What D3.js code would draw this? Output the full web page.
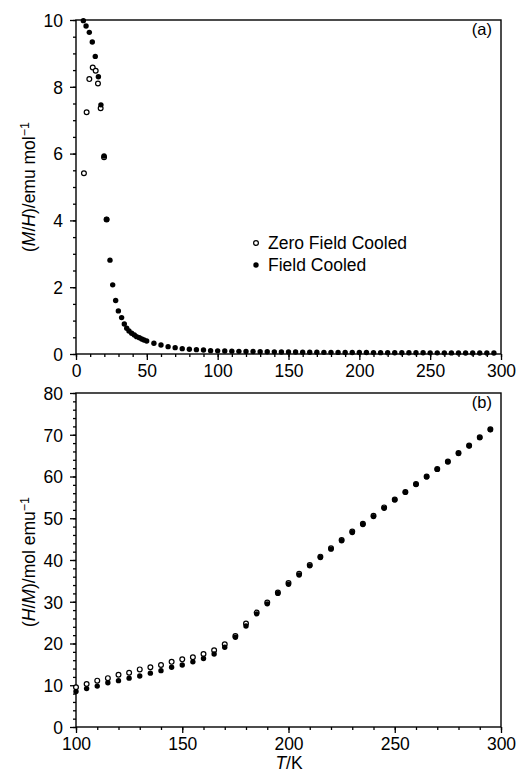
<!DOCTYPE html>
<html>
<head>
<meta charset="utf-8">
<script src="https://cdn.jsdelivr.net/npm/d3@7"></script>
<style>
  body { margin: 0; background: #fff; }
  svg { font-family: "Liberation Sans", Arial, Helvetica, sans-serif; }
</style>
</head>
<body>
<svg id="chart" width="518" height="775"></svg>
<script>
// panel (a): (M/H) vs T
var tempA_fc = [5.2, 7.1, 9.4, 11.5, 13.6, 15.8, 17.6, 19.8, 21.6, 24, 25.9, 28, 29.9, 32.2, 34.1, 35.8, 37.4, 39.3, 41.2, 42.8, 44.7, 46.4, 48, 49.9,
  55, 60, 65, 70, 75, 80, 85, 90, 95, 100, 105, 110, 115, 120, 125, 130, 135, 140, 145, 150, 155, 160, 165, 170, 175, 180,
  185, 190, 195, 200, 205, 210, 215, 220, 225, 230, 235, 240, 245, 250, 255, 260, 265, 270, 275, 280, 285, 290, 295];
var chiA_fc = [9.98, 9.82, 9.63, 9.34, 8.91, 8.30, 7.46, 5.93, 4.03, 2.81, 2.07, 1.6, 1.29, 1.09, 0.9, 0.77, 0.69, 0.62, 0.57, 0.52, 0.49, 0.45, 0.42, 0.39,
  0.32, 0.27, 0.22, 0.19, 0.16, 0.14, 0.13, 0.12, 0.1, 0.095, 0.09, 0.085, 0.08, 0.077, 0.073, 0.07, 0.067, 0.064, 0.062, 0.06, 0.058, 0.056, 0.054, 0.052, 0.05, 0.049,
  0.048, 0.046, 0.045, 0.044, 0.043, 0.042, 0.041, 0.04, 0.039, 0.038, 0.037, 0.037, 0.036, 0.035, 0.035, 0.034, 0.033, 0.033, 0.032, 0.032, 0.031, 0.031, 0.03];
var tempA_zfc = [5.6, 7.5, 9.4, 11.8, 13.9, 15.5, 17.4, 19.8, 21.6];
var chiA_zfc = [5.41, 7.24, 8.23, 8.58, 8.48, 8.1, 7.36, 5.89, 4.03];

// panel (b): (H/M) vs T
var tempB = [100, 105, 110, 115, 120, 125, 130, 135, 140, 145, 150, 155, 160, 165, 170, 175, 180, 185, 190, 195,
  200, 205, 210, 215, 220, 225, 230, 235, 240, 245, 250, 255, 260, 265, 270, 275, 280, 285, 290, 295];
var invB_zfc = [9.5, 10.3, 11.1, 11.7, 12.5, 13.0, 13.8, 14.3, 14.85, 15.6, 16.2, 16.7, 17.5, 18.4, 19.8, 21.8, 24.8, 27.4, 29.8, 32.2,
  34.5, 36.7, 38.8, 40.8, 42.8, 44.8, 46.8, 48.7, 50.6, 52.6, 54.5, 56.3, 58.2, 60.0, 61.8, 63.6, 65.6, 67.4, 69.4, 71.3];
var invB_fc = [8.5, 9.2, 9.8, 10.6, 11.1, 11.7, 12.2, 12.9, 13.5, 14.3, 14.85, 15.6, 16.4, 17.5, 19.1, 21.5, 24.2, 27.1, 29.5, 32.0,
  34.2, 36.4, 38.6, 40.6, 42.6, 44.6, 46.6, 48.5, 50.4, 52.4, 54.4, 56.2, 58.1, 59.9, 61.7, 63.5, 65.5, 67.3, 69.3, 71.2];

var legendLabels = ["Zero Field Cooled", "Field Cooled"];

var svg = d3.select("#chart");
var left = 76, right = 501;

function drawPanel(opts) {
  var x = d3.scaleLinear().domain(opts.xDomain).range([left, right]);
  var y = d3.scaleLinear().domain(opts.yDomain).range([opts.bottom, opts.top]);
  var g = svg.append("g");

  // minor ticks first, then major with labels
  g.append("g")
    .attr("transform", "translate(0," + opts.bottom + ")")
    .call(d3.axisBottom(x).tickValues(d3.range(opts.xDomain[0], opts.xDomain[1] + 0.01, opts.xMinor)).tickSize(3).tickFormat(""))
    .call(a => a.select(".domain").remove());
  g.append("g")
    .attr("transform", "translate(0," + opts.bottom + ")")
    .call(d3.axisBottom(x).tickValues(d3.range(opts.xDomain[0], opts.xDomain[1] + 0.01, opts.xMajor)).tickSize(6).tickPadding(5))
    .call(a => a.select(".domain").remove())
    .call(a => a.selectAll("text").attr("font-size", 17.5).attr("fill", "#000").attr("font-family", null));
  g.append("g")
    .attr("transform", "translate(" + left + ",0)")
    .call(d3.axisLeft(y).tickValues(d3.range(opts.yDomain[0], opts.yDomain[1] + 0.01, opts.yMinor)).tickSize(3).tickFormat(""))
    .call(a => a.select(".domain").remove());
  g.append("g")
    .attr("transform", "translate(" + left + ",0)")
    .call(d3.axisLeft(y).tickValues(d3.range(opts.yDomain[0], opts.yDomain[1] + 0.01, opts.yMajor)).tickSize(6).tickPadding(7))
    .call(a => a.select(".domain").remove())
    .call(a => a.selectAll("text").attr("font-size", 17.5).attr("fill", "#000").attr("font-family", null).attr("dy", "0.36em"));
  g.selectAll(".tick line").attr("stroke", "#000").attr("stroke-width", 1.3);

  // frame
  g.append("rect")
    .attr("x", left).attr("y", opts.top)
    .attr("width", right - left).attr("height", opts.bottom - opts.top)
    .attr("fill", "none").attr("stroke", "#000").attr("stroke-width", 1.4);

  // open symbols (ZFC) then filled (FC)
  g.selectAll("circle.zfc")
    .data(d3.zip(opts.zfcX, opts.zfcY))
    .join("circle")
      .attr("class", "zfc")
      .attr("cx", d => x(d[0]))
      .attr("cy", d => y(d[1]))
      .attr("r", 2.4)
      .attr("fill", "#fff")
      .attr("stroke", "#000")
      .attr("stroke-width", 1.2);
  g.selectAll("circle.fc")
    .data(d3.zip(opts.fcX, opts.fcY))
    .join("circle")
      .attr("class", "fc")
      .attr("cx", d => x(d[0]))
      .attr("cy", d => y(d[1]))
      .attr("r", 2.7)
      .attr("fill", "#000");

  g.append("text")
    .attr("x", 492).attr("y", opts.top + 15)
    .attr("text-anchor", "end")
    .attr("font-size", 16.5)
    .text(opts.tag);

  // rotated y label with italic letters and superscript
  var lab = g.append("text")
    .attr("transform", "translate(35," + opts.labelY + ") rotate(-90)")
    .attr("text-anchor", "middle")
    .attr("font-size", 17.5);
  opts.yLabel.forEach(function(p) {
    var t = lab.append("tspan").text(p.t);
    if (p.i) t.attr("font-style", "italic");
    if (p.sup) t.attr("dy", "-0.45em").attr("font-size", 12.5);
  });
  return {x: x, y: y};
}

drawPanel({
  xDomain: [0, 300], yDomain: [0, 10], top: 20, bottom: 354,
  xMajor: 50, xMinor: 10, yMajor: 2, yMinor: 0.5,
  zfcX: tempA_zfc, zfcY: chiA_zfc, fcX: tempA_fc, fcY: chiA_fc,
  tag: "(a)", labelY: 187,
  yLabel: [{t: "("}, {t: "M", i: true}, {t: "/"}, {t: "H", i: true}, {t: ")/emu mol"}, {t: "\u22121", sup: true}]
});

drawPanel({
  xDomain: [100, 300], yDomain: [0, 80], top: 393, bottom: 727,
  xMajor: 50, xMinor: 10, yMajor: 10, yMinor: 2,
  zfcX: tempB, zfcY: invB_zfc, fcX: tempB, fcY: invB_fc,
  tag: "(b)", labelY: 562,
  yLabel: [{t: "("}, {t: "H", i: true}, {t: "/"}, {t: "M", i: true}, {t: ")/mol emu"}, {t: "\u22121", sup: true}]
});

// legend in panel (a)
var leg = svg.append("g");
leg.selectAll("circle")
  .data(legendLabels)
  .join("circle")
    .attr("cx", 256)
    .attr("cy", (d, i) => 243 + i * 22)
    .attr("r", (d, i) => i ? 2.7 : 2.4)
    .attr("fill", (d, i) => i ? "#000" : "#fff")
    .attr("stroke", "#000")
    .attr("stroke-width", (d, i) => i ? 0 : 1.2);
leg.selectAll("text")
  .data(legendLabels)
  .join("text")
    .attr("x", 268)
    .attr("y", (d, i) => 249 + i * 22)
    .attr("font-size", 17.5)
    .text(d => d);

// x axis title
var xt = svg.append("text")
  .attr("x", 289).attr("y", 769)
  .attr("text-anchor", "middle")
  .attr("font-size", 17.5);
xt.append("tspan").attr("font-style", "italic").text("T");
xt.append("tspan").text("/K");
</script>
</body>
</html>
